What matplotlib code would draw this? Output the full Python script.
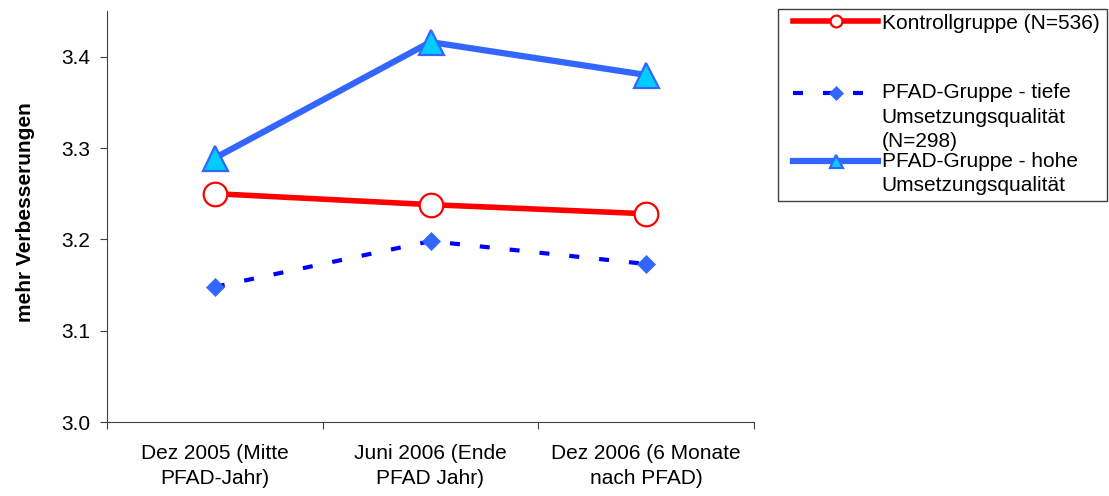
import matplotlib.pyplot as plt
from matplotlib.patches import Rectangle
from matplotlib.ticker import FormatStrFormatter

plt.rcParams['font.family'] = ['Liberation Sans', 'DejaVu Sans']

# values
zeitpunkte = ['Dez 2005 (Mitte\nPFAD-Jahr)',
              'Juni 2006 (Ende\nPFAD Jahr)',
              'Dez 2006 (6 Monate\nnach PFAD)']
kontrolle = [3.250, 3.238, 3.228]
pfad_tief = [3.148, 3.198, 3.173]
pfad_hoch = [3.289, 3.416, 3.380]

serien_namen = ['Kontrollgruppe (N=536)',
                'PFAD-Gruppe - tiefe\nUmsetzungsqualität\n(N=298)',
                'PFAD-Gruppe - hohe\nUmsetzungsqualität']
y_titel = 'mehr Verbesserungen'
y_ticks = [3.0, 3.1, 3.2, 3.3, 3.4]

W, H = 1109, 496
fig = plt.figure(figsize=(W / 100, H / 100), dpi=100)
ax = fig.add_axes([107 / W, 1 - 422 / H, 647 / W, 411 / H])

x = list(range(len(zeitpunkte)))

# the three series
l1, = ax.plot(x, kontrolle, color='#FF0000', lw=4, marker='o', ms=17,
              mfc='white', mec='#FF0000', mew=1.6)
l2, = ax.plot(x, pfad_tief, color='#0000FF', lw=3, dashes=(2.4, 4.8),
              marker='D', ms=9.5, mfc='#3366FF', mec='#3366FF', mew=0.5)
l3, = ax.plot(x, pfad_hoch, color='#3366FF', lw=4.5, marker='^', ms=18,
              mfc='#00CCFF', mec='#3366FF', mew=1.6)

# axes, excel style: ticks between categories, labels in the middle
ax.set_xlim(-0.5, len(zeitpunkte) - 0.5)
ax.set_ylim(3.0, 3.45)
ax.set_yticks(y_ticks)
ax.yaxis.set_major_formatter(FormatStrFormatter('%.1f'))
ax.set_xticks([i - 0.5 for i in range(len(zeitpunkte) + 1)])
ax.set_xticklabels([])
ax.set_xticks(x, minor=True)
ax.set_xticklabels(zeitpunkte, minor=True, linespacing=1.4)
ax.tick_params(axis='x', which='minor', length=0, pad=16, labelsize=15)
ax.tick_params(axis='x', which='major', length=5, width=0.8, color='#404040')
ax.tick_params(axis='y', length=5, width=0.8, color='#404040', labelsize=15, pad=7)

for side in ['top', 'right']:
    ax.spines[side].set_visible(False)
for side in ['left', 'bottom']:
    ax.spines[side].set_color('#404040')
    ax.spines[side].set_linewidth(0.8)

ax.set_ylabel(y_titel, fontsize=15, fontweight='bold')
ax.yaxis.set_label_coords(-0.112, 0.51)

# legend: one entry per legend so the symbol sits on the first text line
legend_y = [0.9536, 0.8125, 0.6754]
marker_scale = [0.5, 0.7, 0.52]
for line, name, y, sc in zip([l1, l2, l3], serien_namen, legend_y, marker_scale):
    padded = '\n' * name.count('\n') + name
    leg = fig.legend(handles=[line], labels=[padded], loc='center left',
                     bbox_to_anchor=(793 / W, y), bbox_transform=fig.transFigure,
                     frameon=False, fontsize=15, handlelength=4.1,
                     handletextpad=0.15, borderpad=0, borderaxespad=0,
                     markerscale=sc, numpoints=1)
    for t in leg.get_texts():
        t.set_linespacing(1.36)

fig.add_artist(Rectangle((778 / W, 1 - 201 / H), 329 / W, 192 / H,
                         transform=fig.transFigure, fill=False,
                         ec='#404040', lw=1))

fig.savefig('out.png', dpi=100)
